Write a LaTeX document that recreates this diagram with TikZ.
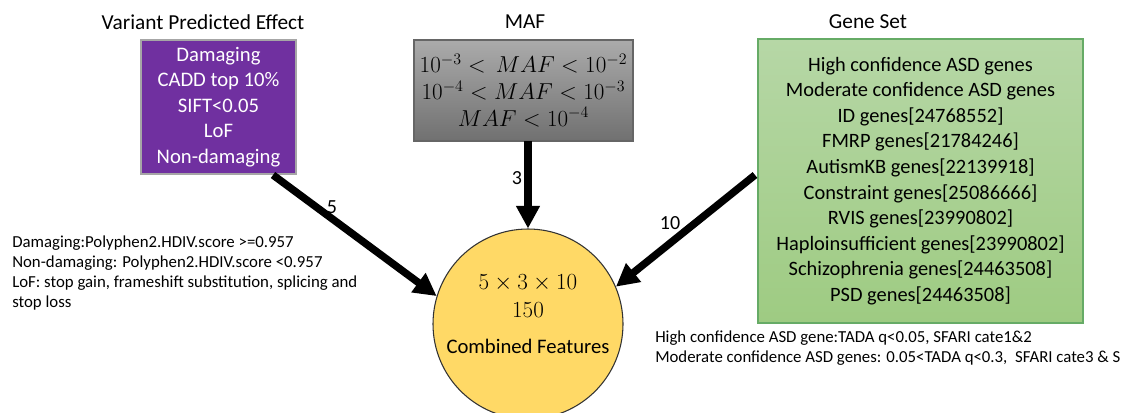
\documentclass[tikz,border=0pt]{standalone}
\usepackage{fontspec}
\setmainfont{Carlito}
\usetikzlibrary{arrows.meta}
\definecolor{vpurple}{HTML}{7030A0}
\definecolor{cyel}{HTML}{FFD966}
\begin{document}
\begin{tikzpicture}[x=0.75pt,y=-0.75pt,
  title/.style={font=\fontsize{16}{19}\selectfont, anchor=center},
  boxtext/.style={font=\fontsize{15.5}{19.2}\selectfont, align=center},
  note/.style={font=\fontsize{12.6}{15}\selectfont, align=left, anchor=north west, inner sep=0pt},
  bigarrow/.style={line width=5.6pt, -{Triangle[length=17pt,width=17pt]}},
  alabel/.style={font=\fontsize{15}{17}\selectfont}]
\useasboundingbox (0,0) rectangle (1122,412);
% titles
\node[title] (t1) at (203,22) {Variant Predicted Effect};
\node[title] (t2) at (525,22) {MAF};
\node[title] (t3) at (868,22) {Gene Set};
% purple box
\node[draw=gray!70, line width=1pt, fill=vpurple, text=white, boxtext,
      minimum width=155*0.75pt, minimum height=134*0.75pt, inner sep=0pt]
  (vpe) at (218.5,107) {Damaging\\CADD top 10\%\\SIFT<0.05\\LoF\\Non-damaging};
% gray box
\node[draw=black!60, line width=0.8pt, top color=black!33, bottom color=black!56,
      minimum width=219*0.75pt, minimum height=101*0.75pt, inner sep=0pt,
      font=\fontsize{17}{20}\selectfont, align=center]
  (maf) at (523.5,90.5) {$10^{-3}<\,MAF<10^{-2}$\\$10^{-4}<MAF<10^{-3}$\\$MAF<10^{-4}$};
% green box
\node[draw=green!45!black!60, line width=0.8pt, top color={rgb,255:red,182;green,215;blue,166}, bottom color={rgb,255:red,158;green,203;blue,130},
      minimum width=325*0.75pt, minimum height=284*0.75pt, inner sep=0pt,
      font=\fontsize{15.3}{19.2}\selectfont, align=center]
  (gs) at (920.5,181) {High confidence ASD genes\\Moderate confidence ASD genes\\ID genes[24768552]\\FMRP genes[21784246]\\AutismKB genes[22139918]\\Constraint genes[25086666]\\RVIS genes[23990802]\\Haploinsufficient genes[23990802]\\Schizophrenia genes[24463508]\\PSD genes[24463508]};
% circle
\node[circle, draw=black!80, line width=0.8pt, fill=cyel, minimum size=190*0.75pt, inner sep=0pt] (cf) at (528,324) {};
\node[font=\fontsize{17}{20}\selectfont] (m1) at (528,283) {$5\times3\times10$};
\node[font=\fontsize{17}{20}\selectfont] (m2) at (528,310) {$150$};
\node[font=\fontsize{15.5}{18}\selectfont] (m3) at (528,346) {Combined Features};
% arrows
\coordinate (a1s) at (273,175);
\coordinate (a2s) at (528,141);
\coordinate (a3s) at (755,175);
\draw[bigarrow] (a1s) -- (cf.163.5);
\draw[bigarrow] (a2s) -- (cf.north);
\draw[bigarrow] (a3s) -- (cf.23.5);
\node[alabel] (l1) at (332,207) {5};
\node[alabel] (l2) at (517,178) {3};
\node[alabel] (l3) at (670,223) {10};
% notes
\node[note] (n1) at (12,236) {Damaging:Polyphen2.HDIV.score >=0.957\\Non-damaging: Polyphen2.HDIV.score <0.957\\LoF: stop gain, frameshift substitution, splicing and\\stop loss};
\node[note] (n2) at (655,331) {High confidence ASD gene:TADA q<0.05, SFARI cate1\&2\\Moderate confidence ASD genes: 0.05<TADA q<0.3, ~SFARI cate3 \& S};
\end{tikzpicture}
\end{document}
